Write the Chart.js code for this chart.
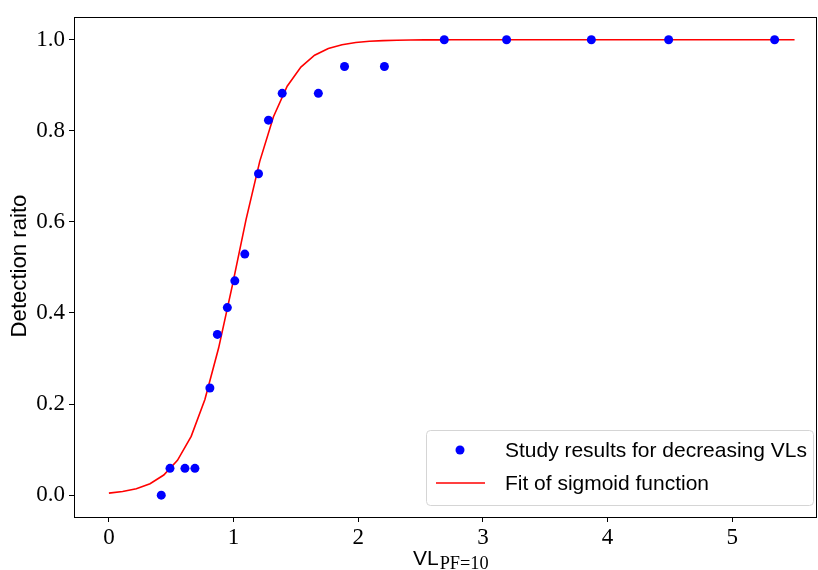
<!DOCTYPE html>
<html>
<head>
<meta charset="utf-8">
<script src="https://cdn.jsdelivr.net/npm/chart.js@4/dist/chart.umd.min.js"></script>
<style>
html,body{margin:0;padding:0;background:#fff;}
#c{display:block;}
</style>
</head>
<body>
<canvas id="c" width="818" height="570"></canvas>
<script>
// Study results (scatter)
const studyVL = [0.42, 0.49, 0.61, 0.69, 0.81, 0.87, 0.95, 1.01, 1.09, 1.20, 1.28, 1.39, 1.68, 1.89, 2.21, 2.69, 3.19, 3.87, 4.49, 5.34];
const studyRatio = [0.0, 0.0588, 0.0588, 0.0588, 0.2353, 0.3529, 0.4118, 0.4706, 0.5294, 0.7059, 0.8235, 0.8824, 0.8824, 0.9412, 0.9412, 1.0, 1.0, 1.0, 1.0, 1.0];

// Sigmoid fit curve at its sample points
const fitVL = [0.00, 0.11, 0.22, 0.33, 0.44, 0.55, 0.66, 0.77, 0.88, 0.99,
               1.10, 1.21, 1.32, 1.43, 1.54, 1.65, 1.76, 1.87, 1.98, 2.09,
               2.20, 2.31, 2.42, 2.53, 2.64, 2.75, 2.86, 2.97, 3.08, 3.19,
               3.30, 3.41, 3.52, 3.63, 3.74, 3.85, 3.96, 4.07, 4.18, 4.29,
               4.40, 4.51, 4.62, 4.73, 4.84, 4.95, 5.06, 5.17, 5.28, 5.39, 5.50];
const fitRatio = [0.0045, 0.0080, 0.0142, 0.0252, 0.0442, 0.0765, 0.129, 0.210, 0.323, 0.460,
                  0.605, 0.733, 0.831, 0.898, 0.940, 0.966, 0.981, 0.989, 0.994, 0.9966,
                  0.9981, 0.9989, 0.9994, 0.9997, 0.9998, 0.9999, 0.9999, 1.0, 1.0, 1.0,
                  1.0, 1.0, 1.0, 1.0, 1.0, 1.0, 1.0, 1.0, 1.0, 1.0,
                  1.0, 1.0, 1.0, 1.0, 1.0, 1.0, 1.0, 1.0, 1.0, 1.0, 1.0];

const xTicks = [0, 1, 2, 3, 4, 5];
const yTicks = [0.0, 0.2, 0.4, 0.6, 0.8, 1.0];
const seriesLabels = ["Study results for decreasing VLs", "Fit of sigmoid function"];
const yTitle = "Detection raito";
const xTitleMain = "VL";
const xTitleSub = "PF=10";

const SERIF = "'Liberation Serif', 'DejaVu Serif', serif";
const SANS = "'Liberation Sans', 'DejaVu Sans', sans-serif";

function fitFont(ctx, text, family, target, base) {
  ctx.font = base + "px " + family;
  const w = ctx.measureText(text).width;
  return base * target / w;
}

const decor = {
  id: 'decor',
  afterDraw(chart) {
    const ctx = chart.ctx, a = chart.chartArea;
    ctx.save();
    // frame
    ctx.strokeStyle = '#000';
    ctx.lineWidth = 1;
    ctx.strokeRect(Math.round(a.left) + 0.5, Math.round(a.top) + 0.5,
                   Math.round(a.right - a.left) - 1, Math.round(a.bottom - a.top));
    // y title
    ctx.fillStyle = '#000';
    let fs = fitFont(ctx, yTitle, SANS, 143, 20);
    ctx.font = fs + "px " + SANS;
    ctx.textAlign = 'center';
    ctx.textBaseline = 'middle';
    ctx.save();
    ctx.translate(20, 266);
    ctx.rotate(-Math.PI / 2);
    ctx.fillText(yTitle, 0, 0);
    ctx.restore();
    // x title with subscript
    ctx.textAlign = 'left';
    ctx.textBaseline = 'alphabetic';
    ctx.font = "21px " + SANS;
    const wMain = ctx.measureText(xTitleMain).width;
    const x0 = 413;
    ctx.fillText(xTitleMain, x0, 565);
    const subFs = fitFont(ctx, xTitleSub, SERIF, 49, 16);
    ctx.font = subFs + "px " + SERIF;
    ctx.fillText(xTitleSub, x0 + wMain + 1, 569);
    // legend box
    const bx = 426, by = 430, bw = 387, bh = 75, r = 4;
    ctx.beginPath();
    ctx.roundRect(bx + 0.5, by + 0.5, bw, bh, r);
    ctx.fillStyle = 'rgba(255,255,255,0.8)';
    ctx.fill();
    ctx.strokeStyle = '#d5d5d5';
    ctx.lineWidth = 1;
    ctx.stroke();
    const ds0 = chart.data.datasets[0], ds1 = chart.data.datasets[1];
    // marker
    ctx.beginPath();
    ctx.arc(460, 450, 4.5, 0, Math.PI * 2);
    ctx.fillStyle = ds0.backgroundColor;
    ctx.fill();
    // line
    ctx.beginPath();
    ctx.moveTo(436, 483);
    ctx.lineTo(485, 483);
    ctx.strokeStyle = ds1.borderColor;
    ctx.lineWidth = 1.6;
    ctx.stroke();
    // texts
    ctx.fillStyle = '#000';
    fs = fitFont(ctx, seriesLabels[0], SANS, 302, 22);
    ctx.font = fs + "px " + SANS;
    ctx.textBaseline = 'middle';
    ctx.fillText(seriesLabels[0], 505, 451);
    ctx.fillText(seriesLabels[1], 505, 484);
    ctx.restore();
  }
};

new Chart(document.getElementById('c'), {
  data: {
    datasets: [
      {
        type: 'scatter',
        label: seriesLabels[0],
        data: studyVL.map((v, i) => ({x: v, y: studyRatio[i]})),
        backgroundColor: '#0000ff',
        borderColor: '#0000ff',
        pointRadius: 4.5,
        pointHoverRadius: 4.5,
        borderWidth: 0,
        order: 0
      },
      {
        type: 'line',
        label: seriesLabels[1],
        data: fitVL.map((v, i) => ({x: v, y: fitRatio[i]})),
        borderColor: '#ff0000',
        backgroundColor: '#ff0000',
        borderWidth: 1.6,
        pointRadius: 0,
        tension: 0,
        fill: false,
        order: 1
      }
    ]
  },
  options: {
    responsive: false,
    animation: false,
    events: [],
    layout: {autoPadding: false, padding: {top: 17, right: 1, left: 0, bottom: 0}},
    plugins: {legend: {display: false}, tooltip: {enabled: false}},
    scales: {
      x: {
        type: 'linear',
        min: -0.28,
        max: 5.68,
        afterBuildTicks: s => { s.ticks = xTicks.map(v => ({value: v})); },
        afterFit: s => { s.height = 53; s.paddingLeft = 0; s.paddingRight = 0; },
        grid: {drawOnChartArea: false, drawTicks: true, tickLength: 5, tickWidth: 1, tickColor: '#000'},
        border: {display: false},
        ticks: {
          color: '#000',
          font: {family: SERIF, size: 23},
          padding: 2,
          maxRotation: 0,
          callback: v => String(v)
        }
      },
      y: {
        type: 'linear',
        min: -0.048,
        max: 1.05,
        afterBuildTicks: s => { s.ticks = yTicks.map(v => ({value: v})); },
        afterFit: s => { s.width = 74; s.paddingTop = 0; s.paddingBottom = 0; },
        grid: {drawOnChartArea: false, drawTicks: true, tickLength: 5, tickWidth: 1, tickColor: '#000'},
        border: {display: false},
        ticks: {
          color: '#000',
          font: {family: SERIF, size: 23},
          padding: 4,
          callback: v => Number(v).toFixed(1)
        }
      }
    }
  },
  plugins: [decor]
});
</script>
</body>
</html>
